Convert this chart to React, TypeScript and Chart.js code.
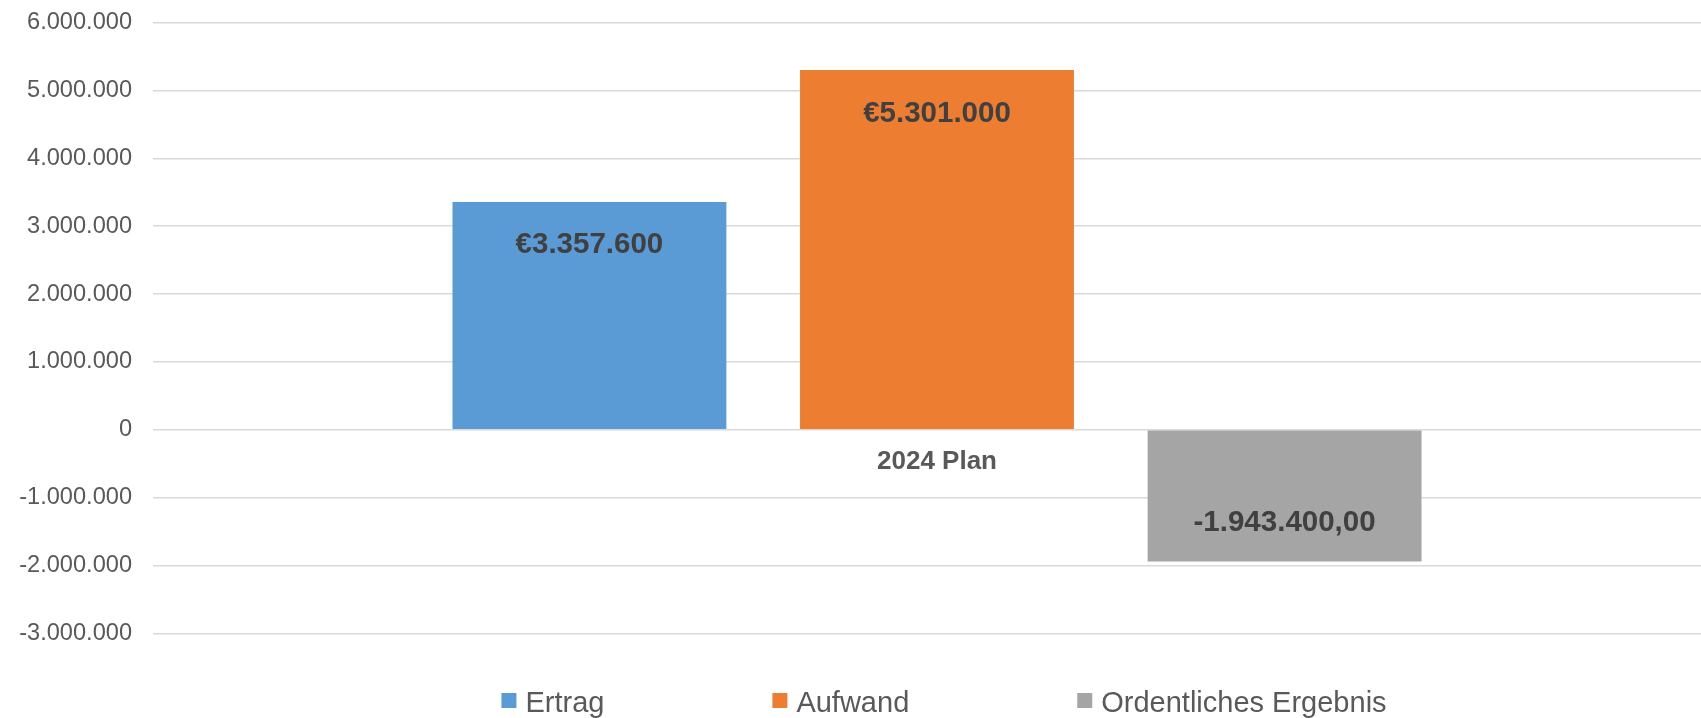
import React, { useEffect, useRef } from "react";
import { Chart, registerables } from "chart.js";

Chart.register(...registerables);

const categories = ["2024 Plan"];
const seriesNames = ["Ertrag", "Aufwand", "Ordentliches Ergebnis"];
const ertrag = [3357600];
const aufwand = [5301000];
const ordentlichesErgebnis = [-1943400];
const seriesColors = ["#5B9BD5", "#ED7D31", "#A5A5A5"];
const yMin = -3000000;
const yMax = 6000000;
const yStep = 1000000;

const FONT = '"Liberation Sans", Arial, sans-serif';

function groupDe(n: number): string {
  const s = Math.round(Math.abs(n)).toString();
  const g = s.replace(/\B(?=(\d{3})+(?!\d))/g, ".");
  return (n < 0 ? "-" : "") + g;
}

function formatValue(datasetIndex: number, v: number): string {
  if (datasetIndex === 2) return groupDe(v) + ",00";
  return "€" + groupDe(v);
}

const valueLabelPlugin = {
  id: "valueLabels",
  afterDatasetsDraw(chart: any) {
    const ctx = chart.ctx;
    ctx.save();
    ctx.font = `bold 29.5px ${FONT}`;
    ctx.fillStyle = "#404040";
    ctx.textAlign = "center";
    ctx.textBaseline = "alphabetic";
    chart.data.datasets.forEach((ds: any, di: number) => {
      const meta = chart.getDatasetMeta(di);
      meta.data.forEach((bar: any, i: number) => {
        const v = ds.data[i] as number;
        const { x, y } = bar.getProps(["x", "y"], true);
        const by = v >= 0 ? y + 51.5 : y - 31;
        ctx.fillText(formatValue(di, v), x, by);
      });
    });
    ctx.restore();
  },
};

const categoryLabelPlugin = {
  id: "categoryLabel",
  afterDatasetsDraw(chart: any) {
    const ctx = chart.ctx;
    const xs = chart.scales.x;
    const ys = chart.scales.y;
    ctx.save();
    ctx.font = `bold 26px ${FONT}`;
    ctx.fillStyle = "#595959";
    ctx.textAlign = "center";
    ctx.textBaseline = "alphabetic";
    categories.forEach((c, i) => {
      ctx.fillText(c, xs.getPixelForValue(i), ys.getPixelForValue(0) + 39.5);
    });
    ctx.restore();
  },
};

const legendPlugin = {
  id: "customLegend",
  afterDraw(chart: any) {
    const ctx = chart.ctx;
    ctx.save();
    ctx.font = `29px ${FONT}`;
    const box = 15;
    const gap = 9;
    const itemGap = 168;
    const widths = chart.data.datasets.map((ds: any) => ctx.measureText(ds.label).width);
    const total =
      widths.reduce((a: number, b: number) => a + b, 0) +
      widths.length * (box + gap) +
      (widths.length - 1) * itemGap;
    let x = 944 - total / 2;
    const baseline = 711.5;
    chart.data.datasets.forEach((ds: any, i: number) => {
      ctx.fillStyle = ds.backgroundColor;
      ctx.fillRect(x, 693, box, box);
      ctx.fillStyle = "#595959";
      ctx.textAlign = "left";
      ctx.textBaseline = "alphabetic";
      ctx.fillText(ds.label, x + box + gap, baseline);
      x += box + gap + widths[i] + itemGap;
    });
    ctx.restore();
  },
};

export default function App() {
  const ref = useRef<HTMLCanvasElement>(null);

  useEffect(() => {
    if (!ref.current) return;
    Chart.defaults.font.family = FONT;
    const values = [ertrag, aufwand, ordentlichesErgebnis];
    const chart = new Chart(ref.current, {
      type: "bar",
      data: {
        labels: categories,
        datasets: seriesNames.map((name, i) => ({
          label: name,
          data: values[i],
          backgroundColor: seriesColors[i],
          borderWidth: 0,
          categoryPercentage: 0.665,
          barPercentage: 0.788,
        })),
      },
      options: {
        responsive: false,
        animation: false,
        devicePixelRatio: 1,
        layout: { padding: { top: 22.7, right: 1, bottom: 84.7, left: 0 } },
        plugins: {
          legend: { display: false },
          tooltip: { enabled: false },
        },
        scales: {
          x: {
            type: "category",
            display: false,
            offset: true,
          },
          y: {
            min: yMin,
            max: yMax,
            border: { display: false },
            grid: {
              color: "#d9d9d9",
              lineWidth: 1.5,
              drawTicks: true,
              tickLength: 21,
              tickColor: "rgba(0,0,0,0)",
            },
            ticks: {
              stepSize: yStep,
              color: "#595959",
              padding: 0,
              font: { size: 23.6, family: FONT },
              callback: (v: any) => groupDe(Number(v)),
            },
            afterFit: (scale: any) => {
              scale.width = 153;
            },
          },
        },
      },
      plugins: [valueLabelPlugin, categoryLabelPlugin, legendPlugin],
    });
    return () => chart.destroy();
  }, []);

  return (
    <div
      style={{
        position: "absolute",
        left: 0,
        top: 0,
        width: 1701,
        height: 718,
        overflow: "hidden",
        background: "#ffffff",
      }}
    >
      <canvas ref={ref} width={1722} height={718} style={{ display: "block" }} />
    </div>
  );
}
